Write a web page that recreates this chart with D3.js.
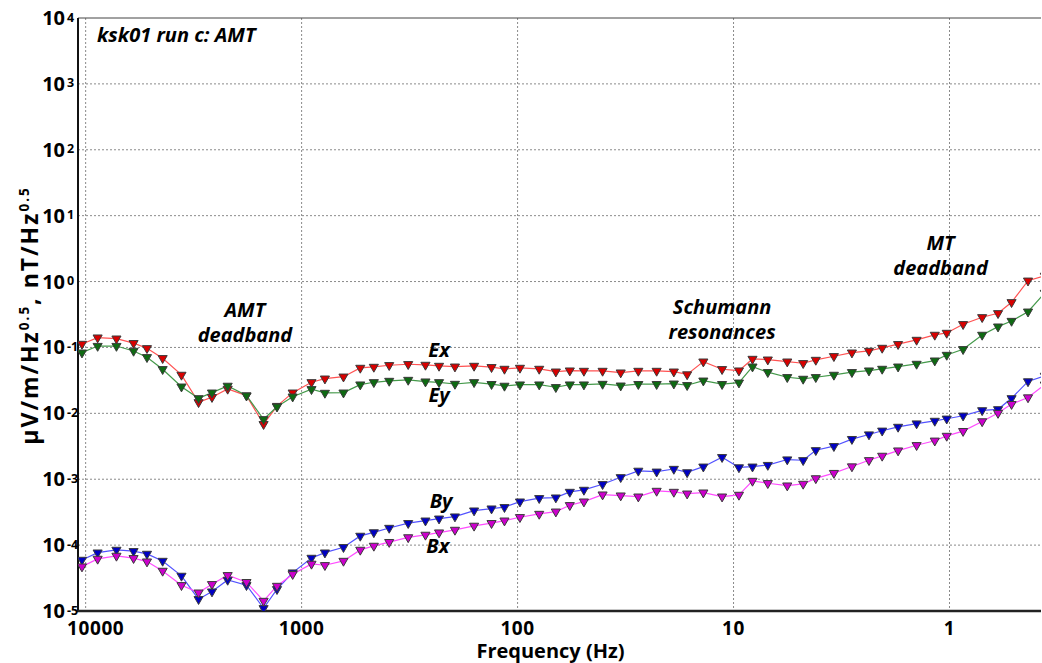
<!DOCTYPE html>
<html>
<head>
<meta charset="utf-8">
<script src="https://cdn.jsdelivr.net/npm/d3@7/dist/d3.min.js"></script>
<style>
  body { margin: 0; background: #fff; }
  svg { display: block; font-family: "Open Sans", "DejaVu Sans", sans-serif; }
</style>
</head>
<body>
<svg id="chart"></svg>
<script>
"use strict";

// =================== DATA ===================
// frequencies (Hz); last one sits just past the right edge
const freqs = [10400, 8800, 7200, 6000, 5200, 4400, 3600, 3000, 2600, 2200,
  1800, 1500, 1300, 1100, 900, 780, 640, 535, 463, 393,
  321, 267, 231, 195, 159, 132, 115, 97.5, 79.4, 66.5,
  57.3, 49.3, 40.4, 33.3, 27.6, 22.7, 18.9, 16.4, 13.8, 11.3,
  9.44, 8.17, 6.94, 5.64, 4.76, 4.16, 3.43, 2.83, 2.36, 2.05,
  1.73, 1.42, 1.17, 1.03, 0.865, 0.706, 0.596, 0.516, 0.433, 0.362];

const exVals = [0.113, 0.141, 0.136, 0.116, 0.0972, 0.0686, 0.0383, 0.0147, 0.0176, 0.0235,
  0.0186, 0.00684, 0.0129, 0.0206, 0.0296, 0.0336, 0.0360, 0.0489, 0.0506, 0.0537,
  0.0556, 0.0543, 0.0524, 0.0511, 0.0524, 0.0501, 0.0472, 0.0489, 0.0472, 0.0429,
  0.0445, 0.0440, 0.0440, 0.0415, 0.0440, 0.0440, 0.0429, 0.0389, 0.0609, 0.0467,
  0.0445, 0.0669, 0.0653, 0.0609, 0.0576, 0.0646, 0.0735, 0.0834, 0.0885, 0.0983,
  0.112, 0.130, 0.155, 0.166, 0.225, 0.287, 0.330, 0.485, 1.03, 1.22];

const eyVals = [0.0834, 0.105, 0.105, 0.0885, 0.0710, 0.0467, 0.0254, 0.0169, 0.0206, 0.0261,
  0.0186, 0.00813, 0.0126, 0.0179, 0.0232, 0.0204, 0.0206, 0.0273, 0.0296, 0.0310,
  0.0321, 0.0303, 0.0296, 0.0279, 0.0296, 0.0277, 0.0261, 0.0273, 0.0273, 0.0249,
  0.0273, 0.0273, 0.0279, 0.0263, 0.0277, 0.0277, 0.0282, 0.0267, 0.0313, 0.0277,
  0.0292, 0.0511, 0.0421, 0.0353, 0.0333, 0.0353, 0.0383, 0.0421, 0.0445, 0.0472,
  0.0511, 0.0562, 0.0631, 0.0769, 0.0939, 0.155, 0.207, 0.252, 0.349, 0.671];

const byVals = [5.96e-5, 7.69e-5, 8.46e-5, 8.08e-5, 7.35e-5, 5.75e-5, 3.41e-5, 1.51e-5, 1.97e-5, 2.96e-5,
  2.46e-5, 1.10e-5, 2.14e-5, 3.83e-5, 6.39e-5, 7.69e-5, 9.29e-5, 1.38e-4, 1.56e-4, 1.82e-4,
  2.15e-4, 2.35e-4, 2.52e-4, 2.71e-4, 3.34e-4, 3.58e-4, 3.76e-4, 4.57e-4, 5.15e-4, 5.26e-4,
  6.41e-4, 6.88e-4, 8.39e-4, 1.07e-3, 1.34e-3, 1.30e-3, 1.43e-3, 1.27e-3, 1.55e-3, 2.16e-3,
  1.51e-3, 1.55e-3, 1.64e-3, 1.99e-3, 1.94e-3, 2.75e-3, 3.17e-3, 4.06e-3, 4.77e-3, 5.44e-3,
  6.22e-3, 7.00e-3, 7.67e-3, 8.28e-3, 9.20e-3, 1.11e-2, 1.15e-2, 1.69e-2, 3.05e-2, 3.70e-2];

const bxVals = [4.72e-5, 6.18e-5, 6.86e-5, 6.33e-5, 5.62e-5, 4.06e-5, 2.46e-5, 1.90e-5, 2.55e-5, 3.49e-5,
  2.74e-5, 1.42e-5, 2.40e-5, 3.62e-5, 5.19e-5, 4.95e-5, 5.75e-5, 8.46e-5, 9.73e-5, 1.11e-4,
  1.31e-4, 1.43e-4, 1.55e-4, 1.70e-4, 1.96e-4, 2.15e-4, 2.35e-4, 2.65e-4, 2.97e-4, 3.22e-4,
  4.03e-4, 4.57e-4, 5.84e-4, 5.64e-4, 5.44e-4, 6.64e-4, 6.41e-4, 6.04e-4, 6.26e-4, 5.44e-4,
  5.78e-4, 9.42e-4, 8.69e-4, 8.00e-4, 8.49e-4, 1.03e-3, 1.24e-3, 1.56e-3, 1.94e-3, 2.26e-3,
  2.72e-3, 3.28e-3, 3.84e-3, 4.54e-3, 5.37e-3, 7.54e-3, 1.01e-2, 1.38e-2, 1.74e-2, 2.72e-2];

const xTicks = [10000, 1000, 100, 10, 1];
const yExponents = [-5, -4, -3, -2, -1, 0, 1, 2, 3, 4];

const series = [
  { name: "Ex", values: exVals, line: "#ff5252", fill: "#d80000" },
  { name: "Ey", values: eyVals, line: "#44994a", fill: "#0e6a12" },
  { name: "By", values: byVals, line: "#5252ff", fill: "#0000c4" },
  { name: "Bx", values: bxVals, line: "#ff4cff", fill: "#cc00cc" }
];

// in-plot annotations: text lines, frequency, value at first baseline
const notes = [
  { lines: ["AMT", "deadband"], f: 1830, v: 0.29 },
  { lines: ["Schumann", "resonances"], f: 11.3, v: 0.322 },
  { lines: ["MT", "deadband"], f: 1.10, v: 3.02 },
  { lines: ["Ex"], f: 231, v: 0.071 },
  { lines: ["Ey"], f: 231, v: 0.0151 },
  { lines: ["By"], f: 226, v: 3.63e-4 },
  { lines: ["Bx"], f: 234, v: 7.54e-5 }
];

// =================== CHART SETUP ===================
const svgWidth = 1042;
const svgHeight = 663;
const margin = { top: 18, right: 1, bottom: 52, left: 78 };
const width = svgWidth - margin.left - margin.right;
const height = svgHeight - margin.top - margin.bottom;

const root = d3.select("#chart")
  .attr("width", svgWidth)
  .attr("height", svgHeight);

const svg = root.append("g")
  .attr("transform", `translate(${margin.left},${margin.top})`);

// =================== SCALES ===================
const xScale = d3.scaleLog().domain([10850, 0.377]).range([0, width]);
const yScale = d3.scaleLog().domain([1e-5, 1e4]).range([height, 0]);

// =================== GRID ===================
svg.selectAll("line.vgrid")
  .data(xTicks)
  .enter()
  .append("line")
  .attr("class", "vgrid")
  .attr("x1", d => xScale(d)).attr("x2", d => xScale(d))
  .attr("y1", 0).attr("y2", height)
  .attr("stroke", "#8a8a8a")
  .attr("stroke-width", 1)
  .attr("stroke-dasharray", "2,2");

svg.selectAll("line.hgrid")
  .data(yExponents.slice(1, -1))
  .enter()
  .append("line")
  .attr("class", "hgrid")
  .attr("x1", 0).attr("x2", width)
  .attr("y1", d => yScale(Math.pow(10, d))).attr("y2", d => yScale(Math.pow(10, d)))
  .attr("stroke", "#8a8a8a")
  .attr("stroke-width", 1)
  .attr("stroke-dasharray", "2,2");

// =================== FRAME ===================
svg.append("line").attr("x1", 0).attr("x2", width).attr("y1", 0).attr("y2", 0)
  .attr("stroke", "#444").attr("stroke-width", 1);
svg.append("line").attr("x1", 0).attr("x2", 0).attr("y1", 0).attr("y2", height + 1)
  .attr("stroke", "#111").attr("stroke-width", 2);
svg.append("line").attr("x1", -1).attr("x2", width).attr("y1", height).attr("y2", height)
  .attr("stroke", "#222").attr("stroke-width", 2.5);

// =================== SERIES ===================
svg.append("clipPath").attr("id", "plotClip")
  .append("rect").attr("x", 0).attr("y", 0).attr("width", width).attr("height", height);

const plot = svg.append("g").attr("clip-path", "url(#plotClip)");
const lineGen = d3.line()
  .x((d, i) => xScale(freqs[i]))
  .y(d => yScale(d));
const tri = d3.symbol().type(d3.symbolTriangle).size(36);

series.forEach(s => {
  plot.append("path")
    .datum(s.values)
    .attr("fill", "none")
    .attr("stroke", s.line)
    .attr("stroke-width", 1.2)
    .attr("d", lineGen);
});

series.forEach(s => {
  plot.selectAll(null)
    .data(s.values)
    .enter()
    .append("path")
    .attr("d", tri)
    .attr("transform", (d, i) => `translate(${xScale(freqs[i])},${yScale(d)}) rotate(180)`)
    .attr("fill", s.fill)
    .attr("stroke", "#3a3a3a")
    .attr("stroke-width", 1);
});

// =================== TICK LABELS ===================
svg.selectAll("text.xtick")
  .data(xTicks)
  .enter()
  .append("text")
  .attr("class", "xtick")
  .attr("x", d => xScale(d) + (d === 10000 ? 10 : 0))
  .attr("y", height + 24)
  .attr("text-anchor", "middle")
  .style("font-size", "19px")
  .style("font-weight", "700")
  .style("letter-spacing", "0.6px")
  .text(d => d);

const yLab = svg.selectAll("text.ytick")
  .data(yExponents)
  .enter()
  .append("text")
  .attr("class", "ytick")
  .attr("y", d => yScale(Math.pow(10, d)) + 7)
  .style("font-size", "20px")
  .style("font-weight", "700");
yLab.append("tspan")
  .attr("x", -13)
  .attr("text-anchor", "end")
  .text("10");
yLab.append("tspan")
  .attr("x", -11)
  .attr("dy", -3.5)
  .attr("text-anchor", "start")
  .style("font-size", "12.5px")
  .text(d => d);

// =================== AXIS TITLES ===================
svg.append("text")
  .attr("x", width / 2 - 9)
  .attr("y", height + 47)
  .attr("text-anchor", "middle")
  .style("font-size", "20px")
  .style("font-weight", "700")
  .text("Frequency (Hz)");

const yTitle = svg.append("text")
  .attr("transform", `translate(${-40},${height / 2 + 1}) rotate(-90)`)
  .attr("text-anchor", "middle")
  .style("font-size", "23px")
  .style("font-weight", "700")
  .style("letter-spacing", "2px");
yTitle.append("tspan").text("μV/m/Hz");
yTitle.append("tspan").attr("dy", -9).style("font-size", "13.5px").text("0.5");
yTitle.append("tspan").attr("dy", 9).text(", nT/Hz");
yTitle.append("tspan").attr("dy", -9).style("font-size", "13.5px").text("0.5");

// =================== ANNOTATIONS ===================
svg.append("text")
  .attr("x", 19)
  .attr("y", 24)
  .style("font-size", "20px")
  .style("font-weight", "700")
  .style("font-style", "italic")
  .text("ksk01 run c: AMT");

notes.forEach(n => {
  const t = svg.append("text")
    .attr("x", xScale(n.f))
    .attr("y", yScale(n.v))
    .attr("text-anchor", "middle")
    .style("font-size", "20px")
    .style("font-weight", "700")
    .style("font-style", "italic");
  n.lines.forEach((ln, k) => {
    t.append("tspan")
      .attr("x", xScale(n.f))
      .attr("dy", k === 0 ? 0 : 25)
      .text(ln);
  });
});
</script>
</body>
</html>
